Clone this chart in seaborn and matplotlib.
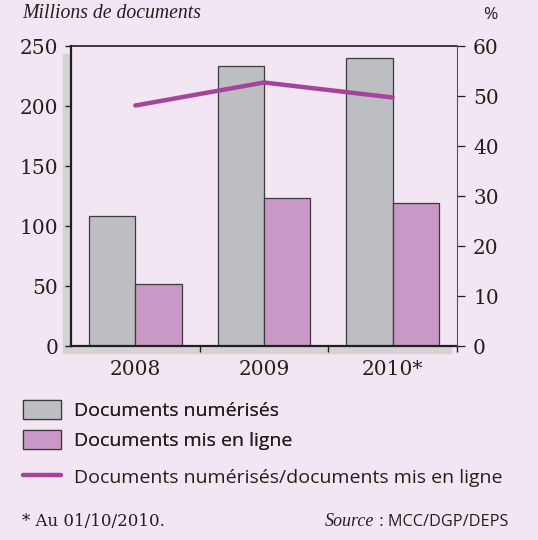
import pandas as pd
import numpy as np
import seaborn as sns
import matplotlib.pyplot as plt
from matplotlib.patches import Rectangle, Patch
from matplotlib.lines import Line2D

# valeurs
annees = ["2008", "2009", "2010*"]
numerises = [108, 233, 240]
en_ligne = [52, 123, 119]
ratio = [48.1, 52.7, 49.7]
series = ["Documents numérisés", "Documents mis en ligne"]
ratio_label = "Documents numérisés/documents mis en ligne"

bg = "#f1e6f1"
grey = "#bdbec2"
pink = "#c998c6"
purple = "#a4449c"
ink = "#231f20"
W, H = 538, 540

df = pd.DataFrame({
    "annee": annees * 2,
    "serie": [series[0]] * 3 + [series[1]] * 3,
    "valeur": numerises + en_ligne,
})

sns.set_theme(style="white")
plt.rcParams["font.family"] = ["DejaVu Serif"]
plt.rcParams["text.color"] = ink

fig = plt.figure(figsize=(W / 100, H / 100), dpi=100, facecolor=bg)
ax = fig.add_axes([71 / W, 1 - 346 / H, (457 - 71) / W, (346 - 46) / H])
ax.set_facecolor(bg)

# ombre grise derriere le cadre
fig.add_artist(Rectangle((63 / W, 1 - 353 / H), (451 - 63) / W, (353 - 54) / H,
                         transform=fig.transFigure, color="#d3d3d5", zorder=-1))

sns.barplot(data=df, x="annee", y="valeur", hue="serie", palette=[grey, pink],
            width=0.72, edgecolor="#3c3a3c", linewidth=0.9, saturation=1,
            legend=False, ax=ax)
ax.set_xlim(-0.5, 2.5)
ax.set_ylim(0, 250)
ax.set_yticks(range(0, 251, 50))
ax.set_xlabel("")
ax.set_ylabel("")

ax2 = ax.twinx()
sns.lineplot(x=[0, 1, 2], y=ratio, color=purple, linewidth=3.2,
             solid_capstyle="round", ax=ax2)
ax2.set_ylim(0, 60)
ax2.set_yticks(range(0, 61, 10))

for a in (ax, ax2):
    for s in a.spines.values():
        s.set_visible(False)
for side, lw in (("left", 1.6), ("top", 1.2), ("bottom", 1.6)):
    ax.spines[side].set_visible(True)
    ax.spines[side].set_linewidth(lw)
    ax.spines[side].set_color(ink)
ax2.spines["right"].set_visible(True)
ax2.spines["right"].set_linewidth(0.8)
ax2.spines["right"].set_color("#555355")

ax.tick_params(axis="y", direction="out", length=4.3, width=1.0, color=ink,
               labelsize=14.5, pad=5, labelcolor=ink, left=True)
ax2.tick_params(axis="y", direction="out", length=5.8, width=0.9, color=ink,
                labelsize=14.5, pad=5.8, labelcolor=ink, right=True)
ax.set_xticks([0, 1, 2])
ax.set_xticklabels(annees)
ax.set_xticks([0.5, 1.5, 2.5], minor=True)
ax.tick_params(axis="x", which="major", length=0, labelsize=14.5, pad=10,
               labelcolor=ink)
ax.tick_params(axis="x", which="minor", direction="out", length=4.5, width=1.0,
               color=ink, bottom=True)

fig.text(22 / W, 1 - 14 / H, "Millions de documents", style="italic",
         family="Liberation Serif", fontsize=14.2, va="center", ha="left")
fig.text(490 / W, 1 - 15 / H, "%", family="Open Sans", fontsize=12.5,
         va="center", ha="center")

# legende en deux blocs (ecart plus grand avant la courbe)
leg_kw = dict(loc="upper left", frameon=False,
              prop={"family": "Open Sans", "size": 14}, handlelength=1.96,
              handleheight=1.13, handletextpad=0.67, borderpad=0,
              borderaxespad=0)
patches = [Patch(facecolor=grey, edgecolor="#3c3a3c", linewidth=0.9),
           Patch(facecolor=pink, edgecolor="#3c3a3c", linewidth=0.9)]
leg1 = fig.legend(patches, series, bbox_to_anchor=(23 / W, 1 - 400 / H),
                  labelspacing=0.52, **leg_kw)
fig.add_artist(leg1)
line_h = [Line2D([], [], color=purple, linewidth=3.2, solid_capstyle="round")]
fig.legend(line_h, [ratio_label], bbox_to_anchor=(23 / W, 1 - 467 / H),
           **leg_kw)

fig.text(22 / W, 1 - 522 / H, "* Au 01/10/2010.", fontsize=12,
         va="center", ha="left")
src = fig.text(508 / W, 1 - 522 / H, " : MCC/DGP/DEPS", fontsize=11.7,
               family="Open Sans", va="center", ha="right")
ax.annotate("Source", xy=(0, 0.5), xycoords=src, ha="right", va="center",
            fontsize=13, family="Liberation Serif", style="italic")

fig.savefig("out.png", dpi=100, facecolor=bg)
